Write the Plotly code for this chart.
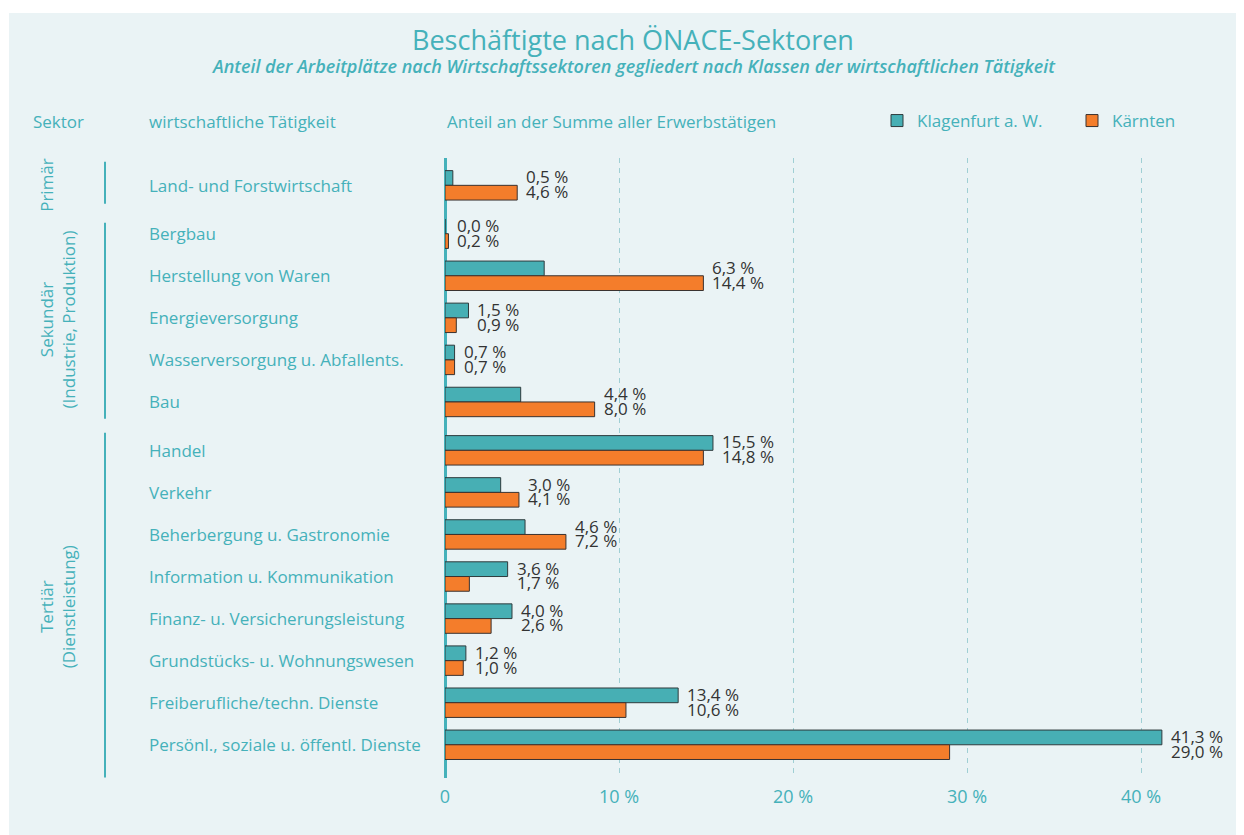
import plotly.graph_objects as go

# --- data -----------------------------------------------------------------
sectors = ["Primär", "Sekundär<br>(Industrie, Produktion)", "Tertiär<br>(Dienstleistung)"]
sector_sizes = [1, 5, 8]

activities = [
    "Land- und Forstwirtschaft",
    "Bergbau",
    "Herstellung von Waren",
    "Energieversorgung",
    "Wasserversorgung u. Abfallents.",
    "Bau",
    "Handel",
    "Verkehr",
    "Beherbergung u. Gastronomie",
    "Information u. Kommunikation",
    "Finanz- u. Versicherungsleistung",
    "Grundstücks- u. Wohnungswesen",
    "Freiberufliche/techn. Dienste",
    "Persönl., soziale u. öffentl. Dienste",
]

# bar lengths as drawn in the original
klagenfurt = [0.45, 0.0, 5.7, 1.35, 0.55, 4.35, 15.4, 3.2, 4.6, 3.6, 3.85, 1.2, 13.4, 41.2]
kaernten = [4.15, 0.2, 14.85, 0.65, 0.55, 8.6, 14.85, 4.25, 6.95, 1.4, 2.65, 1.05, 10.4, 29.0]

# value labels as printed in the original
klagenfurt_labels = ["0,5 %", "0,0 %", "6,3 %", "1,5 %", "0,7 %", "4,4 %", "15,5 %",
                     "3,0 %", "4,6 %", "3,6 %", "4,0 %", "1,2 %", "13,4 %", "41,3 %"]
kaernten_labels = ["4,6 %", "0,2 %", "14,4 %", "0,9 %", "0,7 %", "8,0 %", "14,8 %",
                   "4,1 %", "7,2 %", "1,7 %", "2,6 %", "1,0 %", "10,6 %", "29,0 %"]

x_ticks = [0, 10, 20, 30, 40]
x_tick_labels = ["0", "10 %", "20 %", "30 %", "40 %"]

# --- styling --------------------------------------------------------------
W, H = 1244, 835
OX, OY = 8, 8  # page body margin: screen px = figure px + offset
L, R, T, B = 437, 24, 150, 65
PW, PH = W - L - R, H - T - B

TEAL_TEXT = "#45B1BA"
TEAL_BAR = "#47AFB4"
ORANGE_BAR = "#F47D2B"
PANEL = "#EAF3F5"
FONT = "Open Sans"

GROUP_GAP = 0.15
BAR_W = 0.35
# how far each sector bracket reaches past its first / last row (in row units)
BRACKET_PAD = [(0.56, 0.44), (0.26, 0.40), (0.42, 0.78)]
SECTOR_LABEL_SHIFT = [0.0, 0.05, 0.22]


def px_x(p):
    """screen x pixel -> paper coordinate"""
    return (p - OX - L) / PW


def px_y(p):
    """screen y pixel -> paper coordinate"""
    return 1 - (p - OY - T) / PH


# row positions: one unit per activity plus a small gap between sectors
positions = []
group_spans = []
idx = 0
for g, size in enumerate(sector_sizes):
    start = idx + g * GROUP_GAP
    group_spans.append((start, start + size - 1))
    for i in range(size):
        positions.append(idx + g * GROUP_GAP)
        idx += 1

fig = go.Figure()
fig.add_trace(go.Bar(
    y=positions, x=klagenfurt, orientation="h", name="Klagenfurt a. W.",
    width=BAR_W, offset=-BAR_W,
    marker=dict(color=TEAL_BAR, line=dict(color="#2f3b3d", width=1)),
))
fig.add_trace(go.Bar(
    y=positions, x=kaernten, orientation="h", name="Kärnten",
    width=BAR_W, offset=0,
    marker=dict(color=ORANGE_BAR, line=dict(color="#3a3230", width=1)),
))

annotations = []

# activity labels
for name, pos in zip(activities, positions):
    annotations.append(dict(
        x=px_x(147), xref="paper", y=pos, yref="y", text=name,
        xanchor="left", yanchor="middle", showarrow=False,
        font=dict(family=FONT, size=17, color=TEAL_TEXT),
    ))

# value labels
for pos, k, kt, kl, ktl in zip(positions, klagenfurt, kaernten, klagenfurt_labels, kaernten_labels):
    xr = max(k, kt)
    for dy, lab in ((-BAR_W / 2, kl), (BAR_W / 2, ktl)):
        annotations.append(dict(
            x=xr, y=pos + dy, xref="x", yref="y", text=lab,
            xanchor="left", yanchor="middle", xshift=7, yshift=1, showarrow=False,
            font=dict(family=FONT, size=17, color="#333333"),
        ))

# thin white strips top and left, panel colour elsewhere (paper_bgcolor)
shapes = [
    dict(type="rect", xref="paper", yref="paper", layer="below",
         x0=px_x(0), x1=px_x(W + 20), y0=px_y(13), y1=px_y(-20),
         fillcolor="white", line=dict(width=0)),
    dict(type="rect", xref="paper", yref="paper", layer="below",
         x0=px_x(-20), x1=px_x(9), y0=px_y(H + 20), y1=px_y(-20),
         fillcolor="white", line=dict(width=0)),
]
for label, (y0, y1), (p0, p1), sh in zip(sectors, group_spans, BRACKET_PAD, SECTOR_LABEL_SHIFT):
    shapes.append(dict(
        type="line", xref="paper", yref="y",
        x0=px_x(105), x1=px_x(105), y0=y0 - p0, y1=y1 + p1,
        line=dict(color=TEAL_TEXT, width=2),
    ))
    annotations.append(dict(
        x=px_x(33), xref="paper", y=(y0 + y1) / 2 + sh, yref="y", text=label,
        textangle=-90, xanchor="left", yanchor="middle", showarrow=False,
        font=dict(family=FONT, size=17, color=TEAL_TEXT),
    ))

# headers
for text, xp in (("Sektor", 31), ("wirtschaftliche Tätigkeit", 147),
                 ("Anteil an der Summe aller Erwerbstätigen", 445)):
    annotations.append(dict(
        x=px_x(xp), y=px_y(121), xref="paper", yref="paper", text=text,
        xanchor="left", yanchor="middle", showarrow=False,
        font=dict(family=FONT, size=17, color=TEAL_TEXT),
    ))

annotations.append(dict(
    x=px_x(633), y=px_y(40), xref="paper", yref="paper",
    text="Beschäftigte nach ÖNACE-Sektoren", xanchor="center", yanchor="middle",
    showarrow=False, font=dict(family=FONT, size=27, color=TEAL_TEXT),
))
annotations.append(dict(
    x=px_x(633), y=px_y(66), xref="paper", yref="paper",
    text="<i>Anteil der Arbeitplätze nach Wirtschaftssektoren gegliedert nach Klassen der wirtschaftlichen Tätigkeit</i>",
    xanchor="center", yanchor="middle", showarrow=False,
    font=dict(family=FONT, size=18, color=TEAL_TEXT, weight=600),
))

fig.update_layout(
    width=W, height=H,
    margin=dict(l=L, r=R, t=T, b=B, autoexpand=False),
    paper_bgcolor=PANEL,
    plot_bgcolor="rgba(0,0,0,0)",
    barmode="overlay",
    showlegend=True,
    legend=dict(
        orientation="h", x=px_x(877), y=px_y(121), xanchor="left", yanchor="middle",
        bgcolor="rgba(0,0,0,0)", font=dict(family=FONT, size=17, color=TEAL_TEXT),
        itemclick=False, entrywidth=150, entrywidthmode="pixels",
    ),
    xaxis=dict(
        range=[0, 45], tickvals=x_ticks, ticktext=x_tick_labels,
        showgrid=True, gridcolor="#9FCFD4", griddash="5px,5px", gridwidth=1,
        zeroline=True, zerolinecolor=TEAL_TEXT, zerolinewidth=3,
        tickfont=dict(family=FONT, size=18, color=TEAL_TEXT),
        ticks="", showline=False, ticklabelstandoff=6,
    ),
    yaxis=dict(
        range=[positions[-1] + 0.79, -0.65], showticklabels=False,
        showgrid=False, zeroline=False, showline=False, ticks="",
    ),
    annotations=annotations,
    shapes=shapes,
)

fig.write_html("out.html", config={"displayModeBar": False})
